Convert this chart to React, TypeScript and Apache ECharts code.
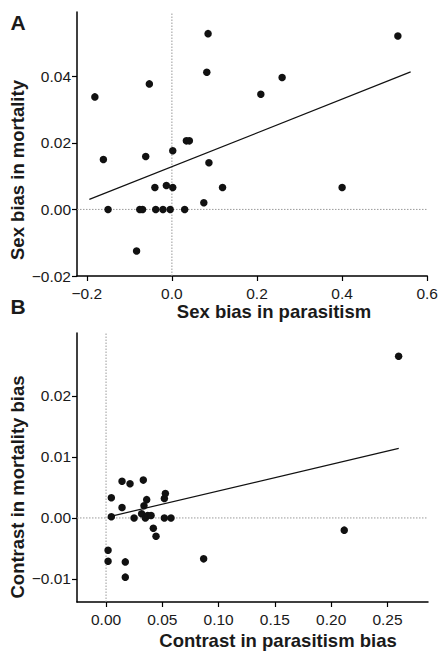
import React, { useEffect, useRef } from "react";
import * as echarts from "echarts";

// Panel A: sex bias in parasitism (x) vs sex bias in mortality (y)
const parasitismA = [0.085, 0.082, -0.053, -0.181, 0.531, 0.259, 0.209, -0.161, -0.15, -0.0615, 0.002, 0.034, 0.041, -0.04, -0.013, 0.002, 0.087, 0.119, 0.075, -0.0755, -0.069, -0.038, -0.021, -0.004, 0.03, -0.083, 0.4];
const mortalityA = [0.0528, 0.0412, 0.0377, 0.0338, 0.0521, 0.0396, 0.0346, 0.015, 0, 0.0159, 0.0176, 0.0206, 0.0206, 0.0066, 0.0072, 0.0066, 0.014, 0.0066, 0.002, 0, 0, 0, 0, 0, 0, -0.0125, 0.0066];
const fitA = [[-0.194, 0.003], [0.561, 0.0413]];

// Panel B: contrast in parasitism bias (x) vs contrast in mortality bias (y)
const parasitismB = [0.0018, 0.0018, 0.0047, 0.0047, 0.0142, 0.0142, 0.0171, 0.0171, 0.0213, 0.0249, 0.0331, 0.0316, 0.0337, 0.0361, 0.0349, 0.037, 0.04, 0.042, 0.0444, 0.0518, 0.0577, 0.0518, 0.0527, 0.0867, 0.2116, 0.2599];
const mortalityB = [-0.0053, -0.0071, 0.0033, 0.0002, 0.006, 0.0017, -0.0072, -0.0097, 0.0056, 0, 0.0062, 0.0007, 0.002, 0.003, 0, 0.0004, 0.0004, -0.0017, -0.003, 0, 0, 0.0032, 0.004, -0.0067, -0.002, 0.0265];
const fitB = [[0.005, 0.0003], [0.26, 0.0114]];

const xTicksA = [-0.2, 0, 0.2, 0.4, 0.6];
const yTicksA = [-0.02, 0, 0.02, 0.04];
const xTicksB = [0, 0.05, 0.1, 0.15, 0.2, 0.25];
const yTicksB = [-0.01, 0, 0.01, 0.02];

const rangeA = { xMin: -0.223, xMax: 0.6, yMin: -0.02, yMax: 0.0593 };
const rangeB = { xMin: -0.0258, xMax: 0.286, yMin: -0.01377, yMax: 0.0303 };

const FONT = "'Liberation Sans', Arial, Helvetica, sans-serif";
const fmt = (d: number) => (v: number) => (v < -1e-12 ? "\u2212" : "") + Math.abs(v).toFixed(d);

function axis(gridIndex: number, min: number, max: number, ticks: number[], dec: number, isX: boolean) {
  return {
    type: "value",
    gridIndex,
    min,
    max,
    axisLine: { show: true, onZero: false, lineStyle: { color: "#000", width: 1.5 } },
    axisTick: { show: true, length: 5, inside: false, customValues: ticks, lineStyle: { color: "#000", width: 1.2 } },
    axisLabel: {
      customValues: ticks,
      formatter: fmt(dec),
      fontFamily: FONT,
      fontSize: 15.5,
      color: "#1a1a1a",
      margin: isX ? 9 : 6,
      hideOverlap: false,
    },
    splitLine: { show: false },
  };
}

function refLine(xi: number, data: number[][]) {
  return {
    type: "line",
    xAxisIndex: xi,
    yAxisIndex: xi,
    data,
    symbol: "none",
    silent: true,
    lineStyle: { color: "#9a9a9a", width: 1, type: [1.5, 1.5] },
    z: 1,
  };
}

export default function App() {
  const ref = useRef<HTMLDivElement>(null);
  useEffect(() => {
    if (!ref.current) return;
    const chart = echarts.init(ref.current, null, { renderer: "svg" });
    const ptsA = parasitismA.map((x, i) => [x, mortalityA[i]]);
    const ptsB = parasitismB.map((x, i) => [x, mortalityB[i]]);
    const titleStyle = { fontFamily: FONT, fontWeight: "bold", fontSize: 18.5, fill: "#1a1a1a", align: "center", verticalAlign: "middle" };
    chart.setOption({
      animation: false,
      backgroundColor: "#fff",
      grid: [
        { left: 77, top: 12, width: 352, height: 264 },
        { left: 77, top: 333, width: 351, height: 269 },
      ],
      xAxis: [
        axis(0, rangeA.xMin, rangeA.xMax, xTicksA, 1, true),
        axis(1, rangeB.xMin, rangeB.xMax, xTicksB, 2, true),
      ],
      yAxis: [
        axis(0, rangeA.yMin, rangeA.yMax, yTicksA, 2, false),
        axis(1, rangeB.yMin, rangeB.yMax, yTicksB, 2, false),
      ],
      series: [
        refLine(0, [[0, rangeA.yMin], [0, rangeA.yMax]]),
        refLine(0, [[rangeA.xMin, 0], [rangeA.xMax, 0]]),
        refLine(1, [[0, rangeB.yMin], [0, rangeB.yMax]]),
        refLine(1, [[rangeB.xMin, 0], [rangeB.xMax, 0]]),
        {
          type: "line", xAxisIndex: 0, yAxisIndex: 0, data: fitA, symbol: "none", silent: true,
          lineStyle: { color: "#111", width: 1.2 }, z: 2,
        },
        {
          type: "line", xAxisIndex: 1, yAxisIndex: 1, data: fitB, symbol: "none", silent: true,
          lineStyle: { color: "#111", width: 1.2 }, z: 2,
        },
        {
          type: "scatter", xAxisIndex: 0, yAxisIndex: 0, data: ptsA, symbolSize: 7.5,
          itemStyle: { color: "#111", opacity: 1 }, z: 3,
        },
        {
          type: "scatter", xAxisIndex: 1, yAxisIndex: 1, data: ptsB, symbolSize: 7.5,
          itemStyle: { color: "#111", opacity: 1 }, z: 3,
        },
      ],
      graphic: [
        { type: "text", x: 18, y: 22, style: { ...titleStyle, text: "A", fontSize: 21 } },
        { type: "text", x: 18, y: 306, style: { ...titleStyle, text: "B", fontSize: 21 } },
        { type: "text", x: 274, y: 311, style: { ...titleStyle, text: "Sex bias in parasitism" } },
        { type: "text", x: 278, y: 640, style: { ...titleStyle, text: "Contrast in parasitism bias" } },
        { type: "text", x: 17, y: 170, rotation: Math.PI / 2, style: { ...titleStyle, text: "Sex bias in mortality" } },
        { type: "text", x: 17, y: 487, rotation: Math.PI / 2, style: { ...titleStyle, text: "Contrast in mortality bias" } },
      ],
    });
    return () => chart.dispose();
  }, []);
  return <div ref={ref} style={{ position: "fixed", left: 0, top: 0, width: 441, height: 652 }} />;
}
